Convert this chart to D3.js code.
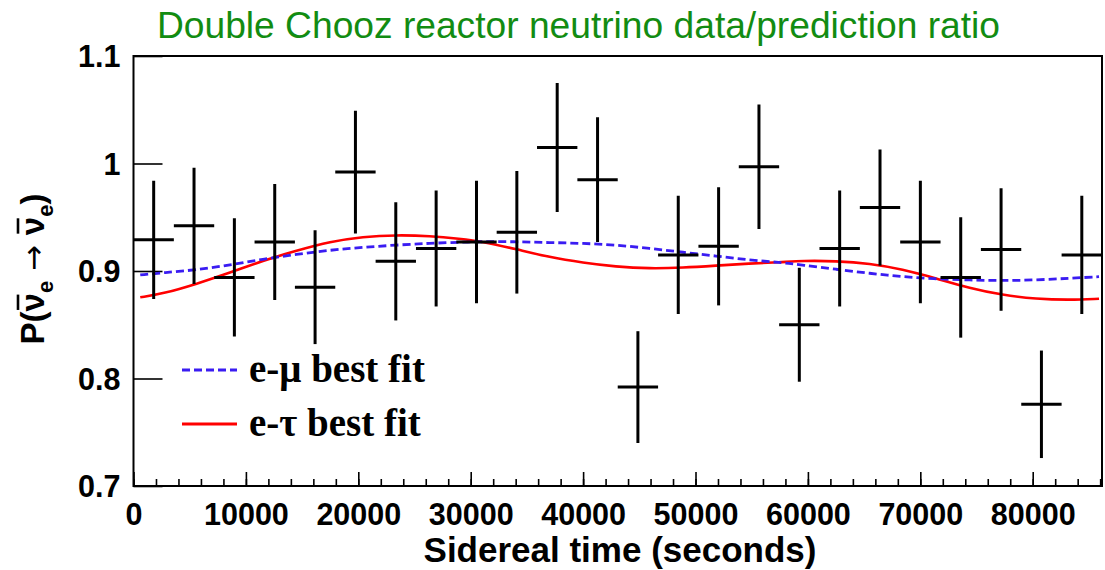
<!DOCTYPE html>
<html><head><meta charset="utf-8">
<script src="https://cdn.jsdelivr.net/npm/d3@7"></script>
<style>body{margin:0;background:#fff}</style>
</head><body>
<svg id="c" width="1105" height="570"></svg>
<script>
// ---- data ----
const binEdges = [0, 3590, 7180, 10770, 14360, 17950, 21540, 25130, 28720, 32310, 35900, 39490,
  43080, 46670, 50260, 53850, 57440, 61030, 64620, 68210, 71800, 75390, 78980, 82570, 86164];
const ratio = [0.929, 0.942, 0.894, 0.927, 0.885, 0.992, 0.909, 0.921, 0.927, 0.936, 1.015, 0.985,
  0.792, 0.915, 0.923, 0.997, 0.850, 0.921, 0.959, 0.927, 0.894, 0.920, 0.776, 0.915];
const ratioErr = [0.055, 0.054, 0.055, 0.054, 0.053, 0.057, 0.055, 0.054, 0.057, 0.057, 0.060, 0.058,
  0.052, 0.055, 0.055, 0.058, 0.053, 0.054, 0.054, 0.057, 0.056, 0.057, 0.050, 0.055];
const fitTime = [600, 2700, 5600, 8600, 11500, 14500, 17500, 20400, 23400, 26400, 29000, 31100,
  34100, 37000, 40000, 42900, 45900, 48900, 51800, 54800, 57500, 59500, 62500, 65500, 68400,
  71400, 74400, 77300, 80300, 83300, 85900];
const emuFit = [0.8963, 0.8985, 0.9010, 0.9056, 0.9110, 0.9155, 0.9195, 0.9220, 0.9242, 0.9258, 0.9268,
  0.9273, 0.9273, 0.9264, 0.9258, 0.9242, 0.9211, 0.9174, 0.9140, 0.9102, 0.9080, 0.9056, 0.9016,
  0.8978, 0.8947, 0.8926, 0.8916, 0.8910, 0.8916, 0.8932, 0.8947];
const etauFit = [0.8755, 0.8790, 0.8880, 0.8984, 0.9096, 0.9189, 0.9273, 0.9319, 0.9335, 0.9326, 0.9300,
  0.9273, 0.9202, 0.9128, 0.9077, 0.9040, 0.9022, 0.9031, 0.9050, 0.9070, 0.9080, 0.9096, 0.9093,
  0.9070, 0.9016, 0.8932, 0.8840, 0.8777, 0.8740, 0.8730, 0.8742];
const xMajorTicks = [0, 10000, 20000, 30000, 40000, 50000, 60000, 70000, 80000];
const xMinorTicks = d3.range(0, 86001, 2000);
const yTicks = [0.7, 0.8, 0.9, 1.0, 1.1];
const yTickLabels = ["0.7", "0.8", "0.9", "1", "1.1"];
const legendLabels = [
  {greek: "μ", color: "#3a1cf2", dash: "8,4"},
  {greek: "τ", color: "#ff0000", dash: null}
];
const titleText = "Double Chooz reactor neutrino data/prediction ratio";
const xTitle = "Sidereal time (seconds)";

// ---- layout ----
const L = 133.5, R = 1102, T = 56, B = 486;
const svg = d3.select("#c");
svg.append("rect").attr("width", 1105).attr("height", 570).attr("fill", "#fff");
const x = d3.scaleLinear().domain([0, 86164]).range([L, R]);
const y = d3.scaleLinear().domain([0.7, 1.1]).range([B, T]);

// title
svg.append("text").attr("x", 157).attr("y", 38)
  .attr("font-family", "Liberation Sans, Arial, sans-serif").attr("font-size", 37)
  .attr("fill", "#128c12").attr("textLength", 843).attr("lengthAdjust", "spacingAndGlyphs")
  .text(titleText);

// clip
svg.append("clipPath").attr("id", "clip").append("rect")
  .attr("x", L).attr("y", T).attr("width", R - L).attr("height", B - T);

// axes
const axFont = "Liberation Sans, Arial, sans-serif";
const gx = svg.append("g").attr("transform", `translate(0,${B})`)
  .call(d3.axisBottom(x).tickValues(xMajorTicks).tickSize(-14).tickPadding(17).tickFormat(d3.format("d")));
const gxm = svg.append("g").attr("transform", `translate(0,${B})`)
  .call(d3.axisBottom(x).tickValues(xMinorTicks).tickSize(-7).tickFormat(""));
const gy = svg.append("g").attr("transform", `translate(${L},0)`)
  .call(d3.axisLeft(y).tickValues(yTicks).tickSize(-29).tickPadding(13).tickFormat((d, i) => yTickLabels[i]));
[gx, gxm, gy].forEach(g => {
  g.select(".domain").remove();
  g.selectAll("line").attr("stroke", "#000").attr("stroke-width", 1.6);
  g.selectAll("text").attr("font-family", axFont).attr("font-weight", "bold")
    .attr("font-size", 30.5).attr("fill", "#000");
});
gy.selectAll("text").attr("dy", "0.36em");

// axis titles
svg.append("text").attr("x", 620).attr("y", 562).attr("text-anchor", "middle")
  .attr("font-family", axFont).attr("font-weight", "bold").attr("font-size", 35)
  .text(xTitle);

const ytg = svg.append("g").attr("transform", "translate(44,269) rotate(-90)");
const yt = ytg.append("text")
  .attr("text-anchor", "middle").attr("font-family", axFont).attr("font-weight", "bold")
  .attr("font-size", 33);
yt.append("tspan").text("P(");
yt.append("tspan").text("ν");
yt.append("tspan").attr("font-size", 22).attr("dy", 9).text("e");
yt.append("tspan").attr("dy", -9).attr("font-weight", "normal")
  .attr("font-family", "DejaVu Sans, sans-serif").attr("font-size", 31).text(" → ");
yt.append("tspan").text("ν");
yt.append("tspan").attr("font-size", 22).attr("dy", 9).text("e");
yt.append("tspan").attr("dy", -9).text(")");
// overbars on the two ν characters (indices 2 and 7)
[2, 7].forEach(ci => {
  const ext = yt.node().getExtentOfChar(ci);
  ytg.append("line").attr("x1", ext.x + 1.5).attr("x2", ext.x + ext.width - 1.5)
    .attr("y1", -26).attr("y2", -26).attr("stroke", "#000").attr("stroke-width", 2.6);
});

// fit curves
const plot = svg.append("g").attr("clip-path", "url(#clip)");
const line = d3.line().x(d => x(d[0])).y(d => y(d[1])).curve(d3.curveBasis);
plot.append("path").datum(fitTime.map((t, i) => [t, etauFit[i]]))
  .attr("d", line).attr("fill", "none").attr("stroke", legendLabels[1].color).attr("stroke-width", 2.6);
plot.append("path").datum(fitTime.map((t, i) => [t, emuFit[i]]))
  .attr("d", line).attr("fill", "none").attr("stroke", legendLabels[0].color).attr("stroke-width", 2.8)
  .attr("stroke-dasharray", legendLabels[0].dash);

// data points
const pts = ratio.map((v, i) => ({lo: binEdges[i], hi: binEdges[i + 1], c: (binEdges[i] + binEdges[i + 1]) / 2, v, e: ratioErr[i]}));
const pg = plot.append("g").attr("stroke", "#000").attr("stroke-width", 3);
pg.selectAll(".v").data(pts).join("line")
  .attr("x1", d => x(d.c)).attr("x2", d => x(d.c)).attr("y1", d => y(d.v - d.e)).attr("y2", d => y(d.v + d.e));
pg.selectAll(".h").data(pts).join("line")
  .attr("x1", d => x(d.lo)).attr("x2", d => x(d.hi)).attr("y1", d => y(d.v)).attr("y2", d => y(d.v));

// frame
svg.append("rect").attr("x", L).attr("y", T).attr("width", R - L).attr("height", B - T)
  .attr("fill", "none").attr("stroke", "#000").attr("stroke-width", 2);

// legend
const lg = svg.append("g");
legendLabels.forEach((l, i) => {
  const ly = 370 + i * 54;
  lg.append("line").attr("x1", 182).attr("x2", 237).attr("y1", ly).attr("y2", ly)
    .attr("stroke", l.color).attr("stroke-width", i === 0 ? 2.8 : 3).attr("stroke-dasharray", l.dash);
  lg.append("text").attr("x", 249).attr("y", ly + 12)
    .attr("font-family", "Liberation Serif, Times New Roman, serif").attr("font-weight", "bold")
    .attr("font-size", 39).attr("fill", "#000")
    .text(`e-${l.greek} best fit`);
});
</script>
</body></html>
